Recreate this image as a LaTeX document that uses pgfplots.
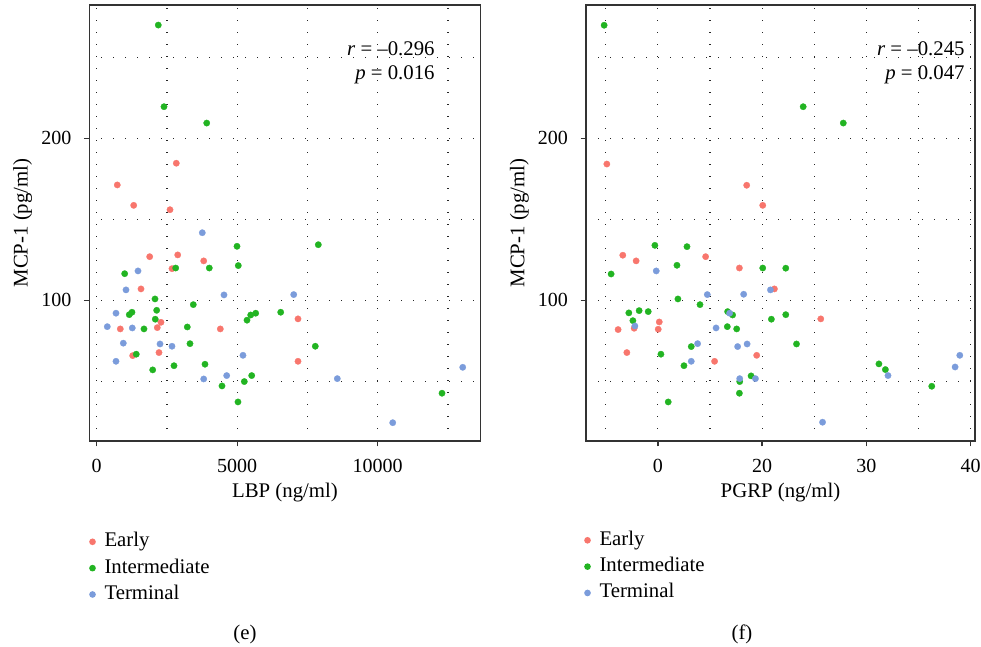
\documentclass[border=0pt]{standalone}
\usepackage{fontspec}
\setmainfont{Liberation Serif}
\usepackage{pgfplots}
\pgfplotsset{compat=1.18}
\definecolor{cE}{HTML}{F8766D}
\definecolor{cI}{HTML}{22B422}
\definecolor{cT}{HTML}{7B9CDB}
\definecolor{axc}{HTML}{333333}
\newcommand{\fs}{\fontsize{15}{18}\selectfont}
\newcommand{\fl}{\fontsize{15.6}{18}\selectfont}
\pgfplotsset{
 panel/.style={
  scale only axis, height=327pt,
  anchor=south west,
  ymin=13.1, ymax=282.3,
  ytick={100,200}, yticklabels={100,200},
  minor ytick={50,150,250},
  scaled x ticks=false, scaled y ticks=false,
  grid=both,
  major grid style={black!85, line width=0.85pt, dash pattern=on 0.85pt off 8.15pt},
  minor grid style={black!85, line width=0.85pt, dash pattern=on 0.85pt off 8.15pt},
  tick align=outside, major tick length=4pt, minor tick length=0pt,
  tick pos=left,
  tick style={axc, line width=1pt},
  axis line style={axc, line width=1pt},
  ticklabel style={font=\fs},
  xticklabel style={yshift=-6pt},
  yticklabel style={xshift=-6pt},
  label style={font=\fl},
  /pgf/number format/assume math mode=true,
  ylabel={MCP-1 (pg/ml)},
  ylabel style={at={(axis description cs:0,0.5)}, anchor=center, yshift=50pt},
  xlabel style={at={(axis description cs:0.5,0)}, anchor=center, yshift=-39pt},
  legend cell align=left,
  legend image code/.code={\fill[#1, draw=none] (3pt,0pt) circle (2.5pt); \path[draw=none, fill=none] (0pt,-3pt) rectangle (6pt,3pt);},
  legend style={draw=none, fill=none, anchor=north west, inner sep=0pt, outer sep=0pt,
    row sep=3.25pt, column sep=5pt,
    nodes={font=\fl, text height=11pt, text depth=3.5pt, inner sep=1pt}},
 },
 dots/.style={only marks, mark=*, mark size=2.4pt, color=#1, mark options={fill=#1, draw=#1, line width=0.2pt}},
}
\begin{document}
\begin{tikzpicture}
\useasboundingbox (0,0) rectangle (735.75pt,484.5pt);
\begin{axis}[panel, at={(66.975pt,153.75pt)}, width=293.55pt,
  xmin=-263, xmax=13665,
  xtick={0,5000,10000}, xticklabels={0,5000,10000},
  minor xtick={2500,7500,12500},
  xlabel={LBP (ng/ml)},
  legend style={at={(axis description cs:-0.002,-0.206)}}]
\addplot[dots=cE] table {
2833 184.6
733 171.2
1317 158.6
2609 155.9
1886 126.9
2883 128.0
3808 124.3
2680 119.5
1577 107.0
2288 86.4
2157 83.1
7164 88.5
840 82.3
4399 82.3
1281 65.8
2217 67.7
7164 62.3
};
\addlegendentry{Early}
\addplot[dots=cI] table {
2192 269.9
2395 219.5
3915 209.4
4993 133.3
7886 134.3
5039 121.4
2811 119.9
4007 119.9
996 116.4
2075 100.8
3438 97.3
1160 91.1
1256 92.6
2135 93.8
2085 88.3
5349 87.7
5480 90.9
5658 92.0
6548 92.6
1683 82.3
3224 83.5
3320 73.2
7779 71.6
1409 66.7
1993 57.0
2751 59.6
3854 60.5
5516 53.5
5253 49.8
4459 47.1
5028 37.2
12288 42.6
};
\addlegendentry{Intermediate}
\addplot[dots=cT] table {
3758 141.7
1470 118.1
1043 106.4
4530 103.3
7011 103.5
687 92.0
377 83.7
1267 82.9
947 73.5
2253 73.0
2680 71.6
5206 66.0
687 62.3
3808 51.4
4626 53.5
8562 51.6
13025 58.6
10534 24.4
};
\addlegendentry{Terminal}
\node[anchor=base east, font=\fl, inner sep=0pt] at (rel axis cs:0.883,0.884) {\textit{r} = --0.296};
\node[anchor=base east, font=\fl, inner sep=0pt] at (rel axis cs:0.883,0.829) {\textit{p} = 0.016};
\end{axis}
\begin{axis}[panel, at={(439.5pt,153.75pt)}, width=291.75pt,
  xmin=3.1, xmax=40.43,
  xtick={10,20,30,40}, xticklabels={0,20,30,40},
  minor xtick={5,15,25,35},
  xlabel={PGRP (ng/ml)},
  legend style={at={(axis description cs:-0.0064,-0.2025)}}]
\addplot[dots=cE] table {
5.10 184.1
18.52 171.0
20.06 158.6
6.63 127.8
7.91 124.3
14.58 126.9
17.82 119.9
21.18 107.0
25.63 88.5
10.13 86.6
6.18 81.9
7.72 82.7
10.03 82.1
7.02 67.7
19.48 66.0
15.44 62.3
};
\addlegendentry{Early}
\addplot[dots=cI] table {
4.84 269.8
23.94 219.5
27.79 209.4
9.71 133.9
12.79 133.1
11.83 121.6
20.06 119.9
22.27 119.8
5.51 116.2
11.92 100.8
14.04 97.3
7.21 92.2
8.20 93.6
9.07 93.0
7.60 87.4
16.69 93.0
17.17 90.9
20.89 88.3
22.27 91.1
16.66 83.7
17.56 82.3
23.30 73.0
13.20 71.4
10.29 66.7
12.50 59.6
31.21 60.7
31.83 57.2
18.94 53.3
17.85 49.8
17.82 42.6
36.28 46.9
10.99 37.2
};
\addlegendentry{Intermediate}
\addplot[dots=cT] table {
9.84 118.1
20.80 106.4
14.74 103.5
18.23 103.7
16.88 92.0
7.79 84.1
15.58 82.9
13.81 73.2
17.65 71.4
18.56 73.0
38.97 66.0
13.20 62.3
32.08 53.5
38.52 58.8
17.85 51.6
19.36 51.6
25.8 24.7
};
\addlegendentry{Terminal}
\node[anchor=base east, font=\fl, inner sep=0pt] at (rel axis cs:0.974,0.884) {\textit{r} = --0.245};
\node[anchor=base east, font=\fl, inner sep=0pt] at (rel axis cs:0.974,0.829) {\textit{p} = 0.047};
\end{axis}
\node[font=\fl] at (183.75pt,8.75pt) {(e)};
\node[font=\fl] at (556.5pt,8.75pt) {(f)};
\end{tikzpicture}
\end{document}
